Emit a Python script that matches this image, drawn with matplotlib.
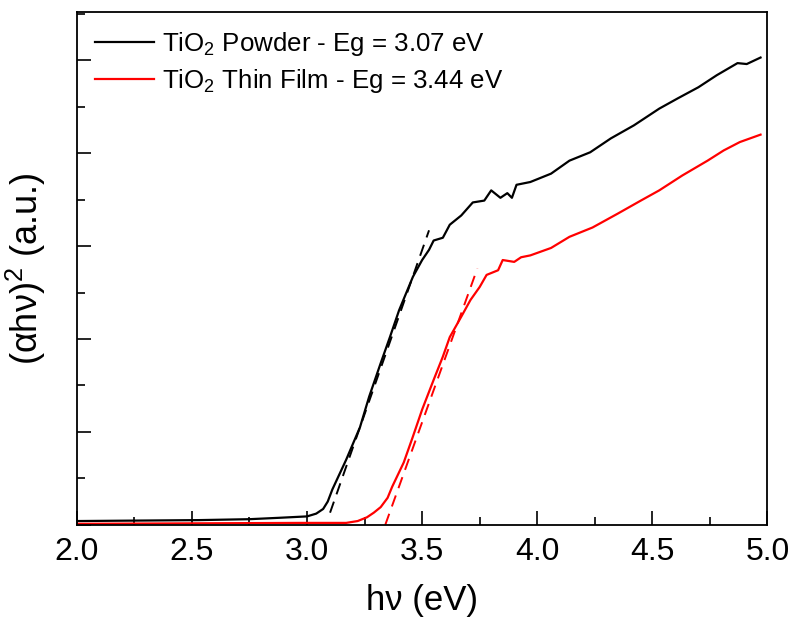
import matplotlib
matplotlib.use("Agg")
import matplotlib.pyplot as plt
from matplotlib.ticker import MultipleLocator, NullFormatter

plt.rcParams['font.family'] = ['Liberation Sans', 'DejaVu Sans']
plt.rcParams['mathtext.fontset'] = 'custom'
plt.rcParams['mathtext.rm'] = 'Liberation Sans'
plt.rcParams['mathtext.it'] = 'Liberation Sans'

# TiO2 powder
powder_x = [2.00, 2.53, 2.75, 2.88, 3.00, 3.04, 3.07, 3.09, 3.11, 3.17, 3.23, 3.27,
            3.32, 3.36, 3.40, 3.43, 3.46, 3.50, 3.53, 3.55, 3.59, 3.62, 3.67, 3.72,
            3.77, 3.80, 3.84, 3.87, 3.89, 3.91, 3.97, 4.06, 4.14, 4.23, 4.32, 4.42,
            4.53, 4.61, 4.70, 4.78, 4.87, 4.91, 4.97]
powder_y = [0.04, 0.05, 0.06, 0.075, 0.09, 0.12, 0.17, 0.25, 0.38, 0.70, 1.05, 1.38,
            1.74, 2.02, 2.31, 2.49, 2.67, 2.85, 2.96, 3.06, 3.09, 3.23, 3.33, 3.47,
            3.49, 3.60, 3.52, 3.57, 3.52, 3.66, 3.69, 3.78, 3.92, 4.01, 4.16, 4.30,
            4.48, 4.59, 4.71, 4.84, 4.97, 4.96, 5.03]

# TiO2 thin film
film_x = [2.00, 2.97, 3.17, 3.22, 3.26, 3.29, 3.32, 3.35, 3.37, 3.42, 3.46, 3.50,
          3.55, 3.59, 3.62, 3.67, 3.71, 3.75, 3.78, 3.83, 3.85, 3.90, 3.93, 3.97,
          4.06, 4.14, 4.24, 4.35, 4.45, 4.53, 4.63, 4.74, 4.81, 4.88, 4.97]
film_y = [0.01, 0.02, 0.02, 0.04, 0.08, 0.13, 0.19, 0.29, 0.41, 0.67, 0.95, 1.24,
          1.56, 1.81, 2.02, 2.24, 2.42, 2.56, 2.69, 2.74, 2.85, 2.83, 2.88, 2.90,
          2.98, 3.10, 3.20, 3.35, 3.49, 3.60, 3.76, 3.92, 4.03, 4.12, 4.20]

# tangent (Tauc) fits
powder_fit_x = [3.10, 3.53]
powder_fit_y = [0.13, 3.17]
film_fit_x = [3.34, 3.74]
film_fit_y = [0.00, 2.76]

fig = plt.figure(figsize=(7.92, 6.33), dpi=100)
ax = fig.add_axes([0.097, 0.171, 0.872, 0.810])

ax.plot(powder_x, powder_y, color='black', lw=1.6,
        label='TiO$_2$ Powder - Eg = 3.07 eV')
ax.plot(film_x, film_y, color='red', lw=1.6,
        label='TiO$_2$ Thin Film - Eg = 3.44 eV')
ax.plot(powder_fit_x, powder_fit_y, color='black', lw=1.4, ls=(0, (6, 4)))
ax.plot(film_fit_x, film_fit_y, color='red', lw=1.4, ls=(0, (6, 4)))

ax.set_xlim(2.0, 5.0)
ax.set_ylim(0, 5.52)
ax.xaxis.set_major_locator(MultipleLocator(0.5))
ax.xaxis.set_minor_locator(MultipleLocator(0.25))
ax.yaxis.set_major_locator(MultipleLocator(1))
ax.yaxis.set_minor_locator(MultipleLocator(0.5))
ax.yaxis.set_major_formatter(NullFormatter())
ax.tick_params(which='both', direction='in', top=False, right=False, width=1.2)
ax.tick_params(which='major', length=10, labelsize=23, pad=9)
ax.tick_params(which='minor', length=6)
for s in ax.spines.values():
    s.set_linewidth(1.3)

ax.set_xlabel('h\u03bd (eV)', fontsize=25, labelpad=12)
ax.set_ylabel('(\u03b1h\u03bd)$^2$ (a.u.)', fontsize=26, labelpad=12)

ax.legend(loc='upper left', frameon=False, fontsize=18.6, handlelength=2.3,
          handletextpad=0.3, labelspacing=0.35, borderaxespad=0.3)

fig.savefig('out.png', dpi=100)
